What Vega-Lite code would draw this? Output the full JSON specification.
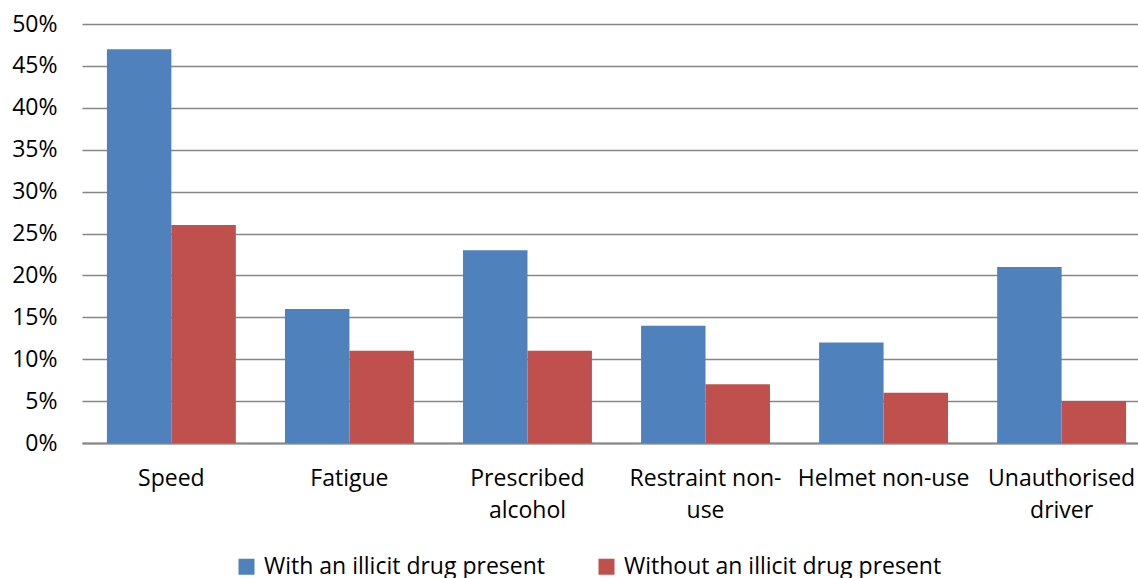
{
  "$schema": "https://vega.github.io/schema/vega-lite/v6.json",
  "autosize": {"type": "none"},
  "width": 1069,
  "height": 419,
  "padding": {"left": 82, "top": 24, "right": 0, "bottom": 135},
  "background": "white",
  "config": {
    "font": "Open Sans",
    "view": {"stroke": null}
  },
  "data": {
    "values": [
      {"factor": "Speed", "group": "With an illicit drug present", "value": 0.47},
      {"factor": "Speed", "group": "Without an illicit drug present", "value": 0.26},
      {"factor": "Fatigue", "group": "With an illicit drug present", "value": 0.16},
      {"factor": "Fatigue", "group": "Without an illicit drug present", "value": 0.11},
      {"factor": "Prescribed|alcohol", "group": "With an illicit drug present", "value": 0.23},
      {"factor": "Prescribed|alcohol", "group": "Without an illicit drug present", "value": 0.11},
      {"factor": "Restraint non-|use", "group": "With an illicit drug present", "value": 0.14},
      {"factor": "Restraint non-|use", "group": "Without an illicit drug present", "value": 0.07},
      {"factor": "Helmet non-use", "group": "With an illicit drug present", "value": 0.12},
      {"factor": "Helmet non-use", "group": "Without an illicit drug present", "value": 0.06},
      {"factor": "Unauthorised|driver", "group": "With an illicit drug present", "value": 0.21},
      {"factor": "Unauthorised|driver", "group": "Without an illicit drug present", "value": 0.05}
    ]
  },
  "mark": {"type": "bar"},
  "encoding": {
    "x": {
      "field": "factor",
      "type": "nominal",
      "sort": null,
      "scale": {"paddingInner": 0.276, "paddingOuter": 0.14},
      "axis": {
        "title": null,
        "labelAngle": 0,
        "labelExpr": "split(datum.label, '|')",
        "labelFontSize": 23,
        "labelColor": "#000000",
        "labelPadding": 24,
        "labelLineHeight": 32,
        "labelBaseline": "top",
        "labelLimit": 0,
        "labelOverlap": false,
        "ticks": false,
        "domainColor": "#868686",
        "domainWidth": 2
      }
    },
    "xOffset": {"field": "group", "type": "nominal", "sort": null, "scale": {"paddingInner": 0, "paddingOuter": 0}},
    "y": {
      "field": "value",
      "type": "quantitative",
      "scale": {"domain": [0, 0.5], "nice": false},
      "axis": {
        "title": null,
        "format": ".0%",
        "values": [0, 0.05, 0.1, 0.15, 0.2, 0.25, 0.3, 0.35, 0.4, 0.45, 0.5],
        "labelFontSize": 23,
        "labelColor": "#000000",
        "labelPadding": 25,
        "ticks": false,
        "domain": false,
        "gridColor": "#868686",
        "gridWidth": 1.5,
        "gridOpacity": 1
      }
    },
    "color": {
      "field": "group",
      "type": "nominal",
      "sort": null,
      "scale": {"range": ["#4F81BD", "#C0504D"]},
      "legend": {
        "title": null,
        "orient": "none",
        "direction": "horizontal",
        "legendX": 153,
        "legendY": 531,
        "symbolType": "square",
        "symbolSize": 256,
        "symbolStrokeWidth": 0,
        "symbolOpacity": 1,
        "labelFontSize": 23,
        "labelColor": "#000000",
        "labelOffset": 6,
        "labelLimit": 0,
        "columnPadding": 49
      }
    }
  }
}
